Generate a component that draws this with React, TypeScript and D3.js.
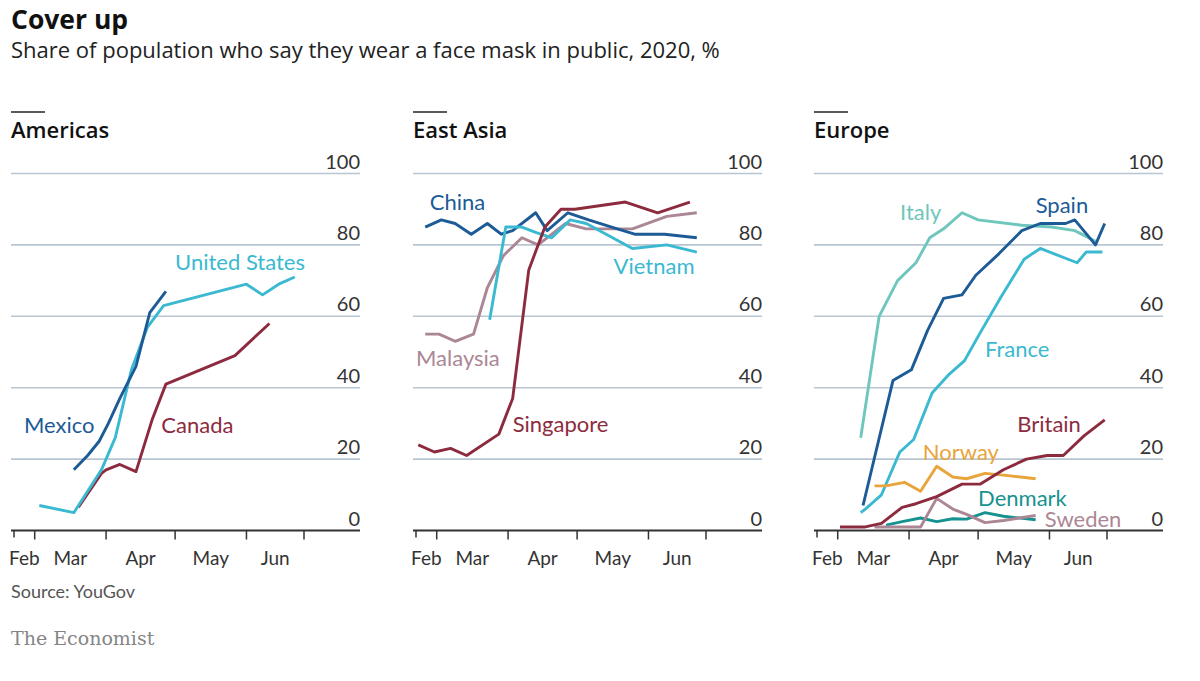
import React from 'react';
import * as d3 from 'd3';

type Pt = [string, number];

// ---------- Data (share of population wearing a mask in public, %) ----------
const unitedStates: Pt[] = [
  ['2020-03-03', 7], ['2020-03-18', 5], ['2020-03-30', 17], ['2020-04-05', 26],
  ['2020-04-12', 45], ['2020-04-19', 57], ['2020-04-26', 63], ['2020-06-01', 69],
  ['2020-06-08', 66], ['2020-06-15', 69], ['2020-06-22', 71],
];
const mexico: Pt[] = [
  ['2020-03-18', 17], ['2020-03-24', 21], ['2020-03-29', 25], ['2020-04-02', 30],
  ['2020-04-07', 37], ['2020-04-14', 46], ['2020-04-20', 61], ['2020-04-27', 67],
];
const canada: Pt[] = [
  ['2020-03-20', 6.5], ['2020-03-30', 16], ['2020-04-01', 17], ['2020-04-07', 18.5],
  ['2020-04-14', 16.5], ['2020-04-21', 31], ['2020-04-27', 41], ['2020-05-27', 49],
  ['2020-06-11', 58],
];

const china: Pt[] = [
  ['2020-02-25', 85], ['2020-03-03', 87], ['2020-03-09', 86], ['2020-03-16', 83],
  ['2020-03-23', 86], ['2020-03-29', 83], ['2020-04-03', 84], ['2020-04-13', 89],
  ['2020-04-18', 84], ['2020-04-27', 89], ['2020-05-06', 87], ['2020-05-16', 85],
  ['2020-05-26', 83], ['2020-06-08', 83], ['2020-06-22', 82],
];
const vietnam: Pt[] = [
  ['2020-03-24', 59], ['2020-03-31', 85], ['2020-04-07', 85], ['2020-04-13', 83.5],
  ['2020-04-20', 82], ['2020-04-28', 87], ['2020-05-05', 86], ['2020-05-25', 79],
  ['2020-06-09', 80], ['2020-06-22', 78],
];
const malaysia: Pt[] = [
  ['2020-02-25', 55], ['2020-03-02', 55], ['2020-03-09', 53], ['2020-03-17', 55],
  ['2020-03-23', 68], ['2020-03-30', 77], ['2020-04-07', 82], ['2020-04-14', 80],
  ['2020-04-26', 86], ['2020-05-05', 84.5], ['2020-05-25', 84.5], ['2020-06-09', 88],
  ['2020-06-22', 89],
];
const singapore: Pt[] = [
  ['2020-02-22', 24], ['2020-02-29', 22], ['2020-03-07', 23], ['2020-03-14', 21],
  ['2020-03-28', 27], ['2020-04-03', 37], ['2020-04-10', 73], ['2020-04-17', 85],
  ['2020-04-24', 90], ['2020-04-30', 90], ['2020-05-22', 92], ['2020-06-05', 89],
  ['2020-06-19', 92],
];

const italy: Pt[] = [
  ['2020-03-11', 26], ['2020-03-19', 60], ['2020-03-27', 70], ['2020-04-04', 75],
  ['2020-04-10', 82], ['2020-04-16', 84.5], ['2020-04-24', 89], ['2020-05-01', 87],
  ['2020-05-20', 85.5], ['2020-06-02', 85], ['2020-06-12', 84], ['2020-06-21', 81],
];
const spain: Pt[] = [
  ['2020-03-12', 7], ['2020-03-25', 42], ['2020-04-02', 45], ['2020-04-09', 56],
  ['2020-04-16', 65], ['2020-04-24', 66], ['2020-04-30', 71.5], ['2020-05-10', 77.5],
  ['2020-05-20', 84], ['2020-05-28', 86], ['2020-06-08', 86], ['2020-06-12', 87],
  ['2020-06-21', 80], ['2020-06-25', 86],
];
const france: Pt[] = [
  ['2020-03-11', 5], ['2020-03-13', 6], ['2020-03-20', 10], ['2020-03-28', 22],
  ['2020-04-03', 25.5], ['2020-04-11', 38.5], ['2020-04-18', 43.5], ['2020-04-25', 47.5],
  ['2020-05-02', 55.5], ['2020-05-11', 65.5], ['2020-05-21', 76], ['2020-05-28', 79],
  ['2020-06-13', 75], ['2020-06-17', 78], ['2020-06-24', 78],
];
const britain: Pt[] = [
  ['2020-03-02', 1], ['2020-03-13', 1], ['2020-03-20', 2], ['2020-03-29', 6.5],
  ['2020-04-04', 7.5], ['2020-04-13', 9.5], ['2020-04-24', 13], ['2020-05-02', 13],
  ['2020-05-12', 17], ['2020-05-22', 20], ['2020-05-31', 21], ['2020-06-07', 21],
  ['2020-06-16', 26.5], ['2020-06-25', 31],
];
const norway: Pt[] = [
  ['2020-03-17', 12.5], ['2020-03-22', 12.5], ['2020-03-30', 13.5], ['2020-04-06', 11],
  ['2020-04-13', 18], ['2020-04-20', 15], ['2020-04-26', 14.5], ['2020-05-04', 16],
  ['2020-05-12', 15.5], ['2020-05-26', 14.5],
];
const denmark: Pt[] = [
  ['2020-03-22', 1.5], ['2020-03-29', 2.5], ['2020-04-06', 3.5], ['2020-04-13', 2.5],
  ['2020-04-20', 3.3], ['2020-04-26', 3.2], ['2020-05-04', 5], ['2020-05-12', 4],
  ['2020-05-26', 3],
];
const sweden: Pt[] = [
  ['2020-03-17', 1], ['2020-04-06', 1], ['2020-04-13', 9], ['2020-04-20', 6],
  ['2020-04-26', 4.5], ['2020-05-04', 2.2], ['2020-05-12', 2.8], ['2020-05-26', 4.2],
];

const yTicks = [0, 20, 40, 60, 80, 100];
const axisBreaks = ['2020-02-21', '2020-03-01', '2020-04-01', '2020-05-01', '2020-06-01', '2020-06-26'];
const monthLabels = ['Feb', 'Mar', 'Apr', 'May', 'Jun'];
const panelTitles = ['Americas', 'East Asia', 'Europe'];

// ---------- Styling ----------
const C = {
  darkBlue: '#1d5b97',
  cyan: '#3ab9d1',
  red: '#8d2b3e',
  mauve: '#ab8795',
  italy: '#6fc6bd',
  orange: '#e9a43c',
  teal: '#16928f',
  grid: '#b7c6d2',
  text: '#222',
};

interface Series { name: string; data: Pt[]; color: string; label: Pt; anchor: 'start' | 'end'; knockout?: boolean }

const panels: Series[][] = [
  [
    { name: 'Canada', data: canada, color: C.red, label: ['2020-04-25', 27.2], anchor: 'start' },
    { name: 'United States', data: unitedStates, color: C.cyan, label: ['2020-05-01', 73], anchor: 'start' },
    { name: 'Mexico', data: mexico, color: C.darkBlue, label: ['2020-03-27', 27.2], anchor: 'end' },
  ],
  [
    { name: 'Malaysia', data: malaysia, color: C.mauve, label: ['2020-02-21', 46], anchor: 'start' },
    { name: 'China', data: china, color: C.darkBlue, label: ['2020-02-27', 89.8], anchor: 'start' },
    { name: 'Vietnam', data: vietnam, color: C.cyan, label: ['2020-06-21', 71.8], anchor: 'end' },
    { name: 'Singapore', data: singapore, color: C.red, label: ['2020-04-03', 27.7], anchor: 'start' },
  ],
  [
    { name: 'Italy', data: italy, color: C.italy, label: ['2020-04-15', 87], anchor: 'end' },
    { name: 'France', data: france, color: C.cyan, label: ['2020-05-04', 48.7], anchor: 'start' },
    { name: 'Spain', data: spain, color: C.darkBlue, label: ['2020-05-26', 89], anchor: 'start' },
    { name: 'Norway', data: norway, color: C.orange, label: ['2020-04-07', 19.8], anchor: 'start', knockout: true },
    { name: 'Denmark', data: denmark, color: C.teal, label: ['2020-05-01', 6.9], anchor: 'start' },
    { name: 'Sweden', data: sweden, color: C.mauve, label: ['2020-05-30', 1.1], anchor: 'start' },
    { name: 'Britain', data: britain, color: C.red, label: ['2020-05-18', 27.7], anchor: 'start' },
  ],
];

const parse = d3.timeParse('%Y-%m-%d');
const FONT = 'Lato, "Open Sans", sans-serif';
const FONT_OS = '"Open Sans", Lato, sans-serif';

const PANEL_LEFT = [11, 413, 814];
const PANEL_W = 349;

function Panel({ index }: { index: number }) {
  const left = PANEL_LEFT[index];
  const breaks = axisBreaks.map((s) => parse(s) as Date);
  const x = d3.scaleTime()
    .domain([breaks[0], breaks[breaks.length - 1]])
    .range([left + 3, left + 293]);
  const y = d3.scaleLinear().domain([0, 100]).range([530.5, 173.5]);
  const line = d3.line<Pt>()
    .x((d) => x(parse(d[0]) as Date))
    .y((d) => y(d[1]));
  const series = panels[index];

  return (
    <g>
      {/* small rule + title */}
      <line x1={left} x2={left + 34} y1={112} y2={112} stroke="#222" strokeWidth={1.6} />
      <text x={left} y={138} fontFamily={FONT_OS} fontSize={22} fontWeight={600} fill="#111">
        {panelTitles[index]}
      </text>

      {/* gridlines */}
      {yTicks.filter((t) => t > 0).map((t) => (
        <line key={t} x1={left} x2={left + PANEL_W} y1={y(t)} y2={y(t)} stroke={C.grid} strokeWidth={1.6} />
      ))}
      {yTicks.map((t) => (
        <text key={'l' + t} x={left + PANEL_W} y={y(t) - 5} textAnchor="end" fontFamily={FONT}
          fontSize={20} fill="#333">{t}</text>
      ))}

      {/* knockouts for labels that sit on gridlines */}
      {series.filter((s) => s.knockout).map((s) => {
        const lx = x(parse(s.label[0]) as Date);
        const ly = y(s.label[1]);
        return <rect key={'k' + s.name} x={lx - 7} y={ly - 14} width={90} height={10} fill="#fff" />;
      })}

      {/* axis */}
      <line x1={left} x2={left + PANEL_W} y1={y(0)} y2={y(0)} stroke="#333" strokeWidth={1.8} />
      {breaks.map((b, i) => (
        <line key={'t' + i} x1={x(b)} x2={x(b)} y1={y(0)} y2={y(0) + (i === 0 ? 7 : 9)} stroke="#333" strokeWidth={1.5} />
      ))}
      {monthLabels.map((m, i) => (
        <text key={m} x={(x(breaks[i]) + x(breaks[i + 1])) / 2} y={565} textAnchor="middle"
          fontFamily={FONT} fontSize={19} fill="#333">{m}</text>
      ))}

      {/* lines */}
      {series.map((s) => (
        <path key={s.name} d={line(s.data) || ''} fill="none" stroke={s.color} strokeWidth={2.9}
          strokeLinejoin="round" strokeLinecap="butt" />
      ))}

      {/* labels */}
      {series.map((s) => (
        <text key={'n' + s.name} x={x(parse(s.label[0]) as Date)} y={y(s.label[1])} textAnchor={s.anchor}
          fontFamily={FONT} fontSize={22} fill={s.color}>{s.name}</text>
      ))}
    </g>
  );
}

export default function App() {
  return (
    <svg width={1200} height={681} viewBox="0 0 1200 681"
      style={{ position: 'absolute', left: 0, top: 0, background: '#fff', display: 'block' }}>
      <rect x={0} y={0} width={1200} height={681} fill="#fff" />
      <text x={11} y={28.5} fontFamily={FONT_OS} fontSize={26.5} fontWeight={700} fill="#111">Cover up</text>
      <text x={11} y={57.5} fontFamily={FONT_OS} fontSize={22} fill="#222">
        Share of population who say they wear a face mask in public, 2020, %
      </text>
      {[0, 1, 2].map((i) => <Panel key={i} index={i} />)}
      <text x={11} y={598} fontFamily={FONT} fontSize={18} fill="#555">Source: YouGov</text>
      <text x={11} y={645} fontFamily='"DejaVu Serif", "Liberation Serif", serif' fontSize={19} fill="#858585">The Economist</text>
    </svg>
  );
}
